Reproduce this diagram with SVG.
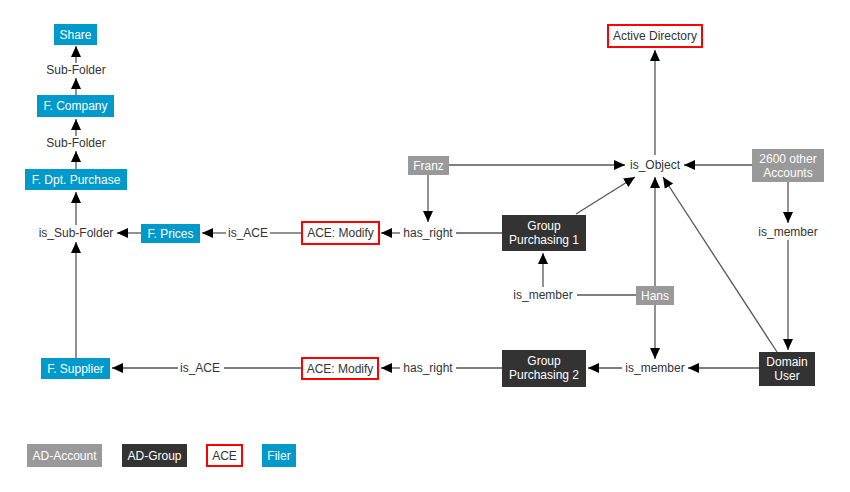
<svg xmlns="http://www.w3.org/2000/svg" width="850" height="492" viewBox="0 0 850 492">
<style>
text{font-family:"Liberation Sans",Arial,sans-serif;font-size:12px;text-anchor:middle;dominant-baseline:central;fill:#333}
.w{fill:#fff}
.filer{fill:#0099cc}
.acct{fill:#999999}
.grp{fill:#333333}
.ace{fill:#fff;stroke:#ff0000;stroke-width:2}
#edges line{stroke:#555;stroke-width:1.3;fill:none}
.a{marker-end:url(#ah)}
</style>
<defs>
<marker id="ah" markerUnits="userSpaceOnUse" markerWidth="12" markerHeight="12" viewBox="0 0 12 12" refX="11" refY="6" orient="auto">
<path d="M0,1 L11,6 L0,11 Z" fill="#000"/>
</marker>
</defs>
<rect width="850" height="492" fill="#fff"/>
<g id="edges">
<line class="a" x1="76" y1="95" x2="76" y2="78"/>
<line class="a" x1="76" y1="63" x2="76" y2="46"/>
<line class="a" x1="76" y1="169" x2="76" y2="151"/>
<line class="a" x1="76" y1="136" x2="76" y2="119"/>
<line class="a" x1="76" y1="225" x2="76" y2="192"/>
<line class="a" x1="141" y1="233" x2="117" y2="233"/>
<line class="a" x1="76" y1="358" x2="76" y2="242"/>
<line class="a" x1="226" y1="233" x2="202" y2="233"/>
<line x1="302" y1="233" x2="270" y2="233"/>
<line class="a" x1="400" y1="233" x2="381" y2="233"/>
<line x1="502" y1="233" x2="456" y2="233"/>
<line class="a" x1="428" y1="175" x2="428" y2="222"/>
<line class="a" x1="449" y1="165" x2="625" y2="165"/>
<line class="a" x1="576" y1="214" x2="635" y2="177"/>
<line class="a" x1="655" y1="155" x2="655" y2="50"/>
<line class="a" x1="752" y1="165" x2="684" y2="165"/>
<line class="a" x1="788" y1="182" x2="788" y2="223"/>
<line class="a" x1="788" y1="240" x2="788" y2="350"/>
<line class="a" x1="777" y1="352" x2="663" y2="177"/>
<line class="a" x1="759" y1="368" x2="688" y2="368"/>
<line class="a" x1="622" y1="368" x2="588" y2="368"/>
<line class="a" x1="655" y1="305" x2="655" y2="359"/>
<line class="a" x1="655" y1="286" x2="655" y2="177"/>
<line x1="636" y1="295" x2="577" y2="295"/>
<line class="a" x1="543" y1="287" x2="543" y2="253"/>
<line x1="502" y1="368" x2="456" y2="368"/>
<line class="a" x1="400" y1="368" x2="381" y2="368"/>
<line x1="302" y1="368" x2="224" y2="368"/>
<line class="a" x1="178" y1="368" x2="112" y2="368"/>
</g>
<g id="share"><rect class="filer" x="54" y="24" width="43" height="21"/><text class="w" x="75.5" y="35">Share</text></g>
<g id="subfolder1"><text x="76" y="70">Sub-Folder</text></g>
<g id="fcompany"><rect class="filer" x="37" y="95" width="77" height="22"/><text class="w" x="75.5" y="106">F. Company</text></g>
<g id="subfolder2"><text x="76" y="143">Sub-Folder</text></g>
<g id="fdpt"><rect class="filer" x="25" y="169" width="102" height="21"/><text class="w" x="76" y="179.5">F. Dpt. Purchase</text></g>
<g id="issubfolder"><text x="76" y="233">is_Sub-Folder</text></g>
<g id="fprices"><rect class="filer" x="141" y="224" width="59" height="19"/><text class="w" x="170.5" y="233.5">F. Prices</text></g>
<g id="isace1"><text x="248" y="233">is_ACE</text></g>
<g id="ace1"><rect class="ace" x="302" y="222" width="77" height="22"/><text x="340.5" y="233">ACE: Modify</text></g>
<g id="hasright1"><text x="428" y="233">has_right</text></g>
<g id="franz"><rect class="acct" x="408" y="156" width="41" height="19"/><text class="w" x="428.5" y="165.5">Franz</text></g>
<g id="gp1"><rect class="grp" x="502" y="215" width="84" height="36"/><text class="w" x="544" y="226">Group</text><text class="w" x="544" y="240">Purchasing 1</text></g>
<g id="isobject"><text x="655" y="165">is_Object</text></g>
<g id="ad"><rect class="ace" x="608" y="25" width="94" height="22"/><text x="655" y="36">Active Directory</text></g>
<g id="others"><rect class="acct" x="752" y="149" width="72" height="33"/><text class="w" x="788" y="159">2600 other</text><text class="w" x="788" y="173">Accounts</text></g>
<g id="ismember1"><text x="788" y="232">is_member</text></g>
<g id="ismember2"><text x="543" y="295">is_member</text></g>
<g id="hans"><rect class="acct" x="636" y="286" width="38" height="19"/><text class="w" x="655" y="295.5">Hans</text></g>
<g id="ismember3"><text x="655" y="368">is_member</text></g>
<g id="du"><rect class="grp" x="759" y="352" width="56" height="34"/><text class="w" x="787" y="362">Domain</text><text class="w" x="787" y="376">User</text></g>
<g id="gp2"><rect class="grp" x="502" y="350" width="84" height="37"/><text class="w" x="544" y="361">Group</text><text class="w" x="544" y="375">Purchasing 2</text></g>
<g id="hasright2"><text x="428" y="368">has_right</text></g>
<g id="ace2"><rect class="ace" x="302" y="358" width="76" height="21"/><text x="340" y="368.5">ACE: Modify</text></g>
<g id="isace2"><text x="200" y="368">is_ACE</text></g>
<g id="fsupplier"><rect class="filer" x="41" y="358" width="69" height="21"/><text class="w" x="75.5" y="368.5">F. Supplier</text></g>
<g id="legend-account"><rect class="acct" x="27" y="444" width="75" height="23"/><text class="w" x="64.5" y="455.5">AD-Account</text></g>
<g id="legend-group"><rect class="grp" x="122" y="444" width="65" height="23"/><text class="w" x="154.5" y="455.5">AD-Group</text></g>
<g id="legend-ace"><rect class="ace" x="207" y="445" width="35" height="21"/><text x="224.5" y="455.5">ACE</text></g>
<g id="legend-filer"><rect class="filer" x="262" y="444" width="34" height="23"/><text class="w" x="279" y="455.5">Filer</text></g>
</svg>
